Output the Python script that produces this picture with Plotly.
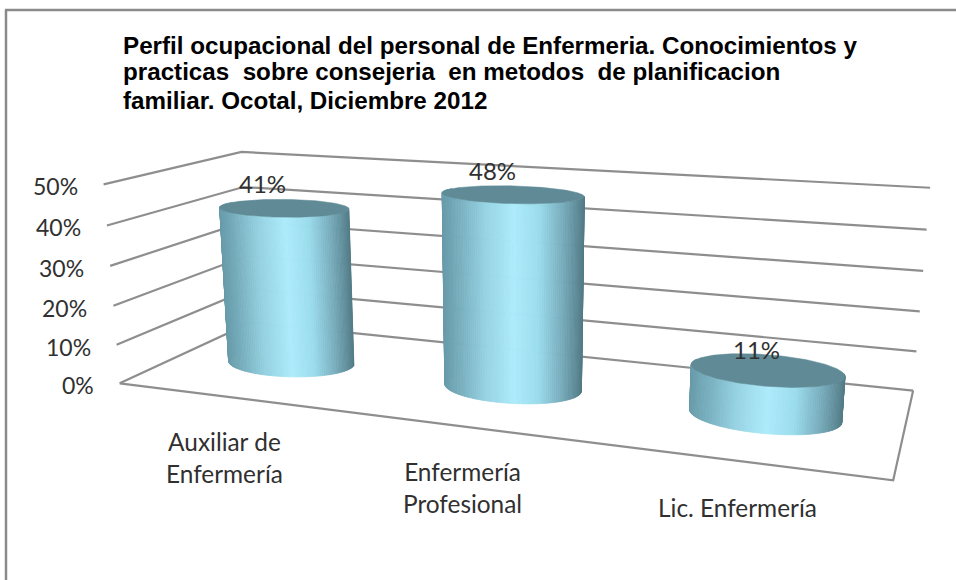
import numpy as np
import plotly.graph_objects as go

categories = ["Auxiliar de<br>Enfermería", "Enfermería<br>Profesional", "Lic. Enfermería"]
values = [0.41, 0.48, 0.11]
value_labels = ["41%", "48%", "11%"]
z_ticks = [0, 0.1, 0.2, 0.3, 0.4, 0.5]
tick_labels = ["0%", "10%", "20%", "30%", "40%", "50%"]
title_lines = ["Perfil ocupacional del personal de Enfermeria. Conocimientos y",
               "practicas  sobre consejeria  en metodos  de planificacion",
               "familiar. Ocotal, Diciembre 2012"]

# oblique 3-D view: where the corners of the chart box fall on the page
anchors = [((0,0,0),(120,383)),((0,0,.5),(103,184)),((0,0,.1),(117,345)),
           ((0,1,0),(250,323)),((0,1,.5),(242,152)),
           ((3,1,0),(913,390)),((3,1,.5),(930,188)),((3,1,.1),(917,351)),((3,1,.3),(923,271)),
           ((3,0,0),(893,481))]
A, b = [], []
for (X, Y, Z), (u, v) in anchors:
    A.append([X,Y,Z,1,0,0,0,0,-u*X,-u*Y,-u*Z]); b.append(u)
    A.append([0,0,0,0,X,Y,Z,1,-v*X,-v*Y,-v*Z]); b.append(v)
P = np.append(np.linalg.lstsq(np.array(A,float), np.array(b,float), rcond=None)[0], 1).reshape(3,4)

def proj(X, Y, Z):
    X, Y, Z = np.broadcast_arrays(np.asarray(X,float), np.asarray(Y,float), np.asarray(Z,float))
    h = P @ np.vstack([X.ravel(), Y.ravel(), Z.ravel(), np.ones(X.size)])
    return h[0]/h[2], h[1]/h[2]

GRID = "#8e8e8e"
fig = go.Figure()

def line(X, Y, Z, color=GRID, width=2.2):
    u, v = proj(X, Y, Z)
    fig.add_trace(go.Scatter(x=u, y=v, mode="lines", line=dict(color=color, width=width),
                             hoverinfo="skip", showlegend=False))

for z in z_ticks:
    line([0,0,3], [0,1,1], [z,z,z])
line([0,3,3], [0,0,1], [0,0,0])

stops = [(0,(104,155,170)),(.12,(120,175,190)),(.3,(150,210,226)),(.5,(173,235,251)),
         (.68,(155,220,236)),(.85,(120,172,188)),(1,(82,122,133))]
def shade(t):
    xs = [s[0] for s in stops]
    rgb = [np.interp(t, xs, [s[1][i] for s in stops]) for i in range(3)]
    return "rgb(%d,%d,%d)" % tuple(int(round(c)) for c in rgb)

RX, RY, YC = 0.28, 0.20, 0.5
N = 180
th = np.linspace(0, 2*np.pi, N+1)
for i, val in enumerate(values):
    cx = i + .5
    xs = cx + RX*np.cos(th)
    ys = YC + RY*np.sin(th)
    ut, vt = proj(xs, ys, val)
    ub, vb = proj(xs, ys, 0)
    umin, umax = ut.min(), ut.max()
    for k in sorted(range(N), key=lambda k: -(ys[k]+ys[k+1])):
        if ys[k]+ys[k+1] > 2*YC + 0.1:
            continue
        t = (0.5*(ut[k]+ut[k+1]) - umin)/(umax-umin)
        c = shade(t)
        fig.add_trace(go.Scatter(x=[ut[k],ut[k+1],ub[k+1],ub[k],ut[k]],
                                 y=[vt[k],vt[k+1],vb[k+1],vb[k],vt[k]],
                                 mode="lines", fill="toself", fillcolor=c,
                                 line=dict(color=c, width=0.8), hoverinfo="skip", showlegend=False))
    fig.add_trace(go.Scatter(x=ut, y=vt, mode="lines", fill="toself", fillcolor="#5f8a96",
                             line=dict(color="#5f8a96", width=0.5), hoverinfo="skip", showlegend=False))

ann = []
FONT = "Lato, 'Open Sans', sans-serif"
for z, lab in zip(z_ticks, tick_labels):
    u, v = proj(0, 0, z)
    ann.append(dict(x=u[0]-24, y=v[0]+2, text=lab, xanchor="right", yanchor="middle",
                    font=dict(family=FONT, size=23, color="#303030")))
for (lab, off), val, cx in zip(zip(value_labels, [(-22,-24),(-20,-24),(-10,-20)]), values, [.5,1.5,2.5]):
    u, v = proj(cx, YC, val)
    ann.append(dict(x=u[0]+off[0], y=v[0]+off[1], text=lab, xanchor="center", yanchor="middle",
                    font=dict(family=FONT, size=24, color="#303030")))
for lab, pos in zip(categories, [(224,457),(462,487),(737,507)]):
    ann.append(dict(x=pos[0], y=pos[1], text=lab, xanchor="center", yanchor="middle", align="center",
                    font=dict(family=FONT, size=24.4, color="#303030")))
for lab, y in zip(title_lines, [45.5, 71, 100]):
    ann.append(dict(x=120.5, y=y, text=lab, xanchor="left", yanchor="middle", align="left",
                    font=dict(family="Liberation Sans, Arial, sans-serif", size=24.2, color="black", weight="bold")))
for a in ann:
    a.update(showarrow=False, xref="x", yref="y")

hid = dict(visible=False, fixedrange=True)
fig.update_layout(width=956, height=580, margin=dict(l=0,r=0,t=0,b=0), paper_bgcolor="white",
                  plot_bgcolor="white", showlegend=False,
                  xaxis=dict(range=[0,956], **hid), yaxis=dict(range=[580,0], **hid),
                  annotations=ann,
                  shapes=[dict(type="line", xref="x", yref="y", x0=6, x1=6, y0=9.5, y1=580, line=dict(color="#8a8a8a", width=2.5)),
                          dict(type="line", xref="x", yref="y", x0=5, x1=956, y0=10, y1=10, line=dict(color="#8a8a8a", width=2.5))])
fig.write_html("out.html", config=dict(displayModeBar=False),
               post_script="document.body.style.margin='0';document.documentElement.style.overflow='hidden';")
